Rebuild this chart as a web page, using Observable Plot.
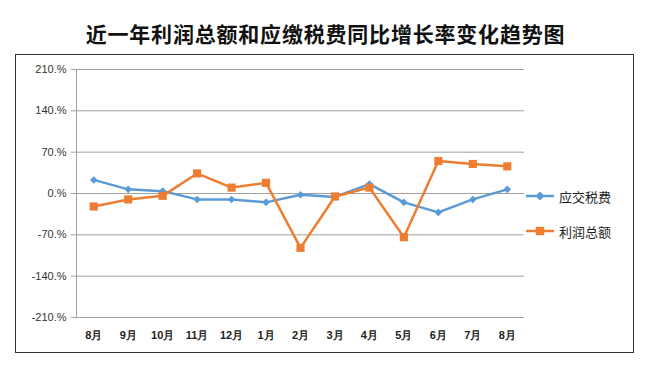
<!DOCTYPE html>
<html><head><meta charset="utf-8">
<script src="https://cdn.jsdelivr.net/npm/d3@7"></script>
<script src="https://cdn.jsdelivr.net/npm/@observablehq/plot@0.6"></script>
<style>
body{margin:0;background:#fff;}
#wrap{position:relative;width:650px;height:367px;overflow:hidden;font-family:"Noto Sans CJK SC",sans-serif;}
#title{position:absolute;left:0;top:18px;width:650px;padding-left:1px;box-sizing:border-box;text-align:center;font-size:21px;font-weight:700;letter-spacing:0.8px;line-height:30px;color:#111;}
#box{position:absolute;left:15px;top:54px;width:617px;height:297px;border:1px solid #333;}
#chart{position:absolute;left:0;top:0;}
.leg{position:absolute;left:510px;height:20px;display:flex;align-items:center;font-size:13px;color:#222;white-space:nowrap;}
.leg svg{margin-right:5px;}
</style></head>
<body>
<div id="wrap">
  <div id="title"></div>
  <div id="box">
    <div id="chart"></div>
  </div>
</div>
<script>
const titleText = "近一年利润总额和应缴税费同比增长率变化趋势图";
const months = ["8月","9月","10月","11月","12月","1月","2月","3月","4月","5月","6月","7月","8月"];
const tax = [23, 7, 4, -10, -10, -15, -2, -6, 16, -15, -32, -10, 7];
const profit = [-22, -10, -4, 34, 10, 18, -92, -5, 10, -74, 55, 50, 46];
const yTicks = [-210, -140, -70, 0, 70, 140, 210];
const seriesNames = ["应交税费", "利润总额"];
const colors = ["#5B9BD5", "#ED7D31"];
const symbols = ["diamond2", "square"];

document.getElementById("title").textContent = titleText;

const taxRows = tax.map((v, i) => ({i, v}));
const profitRows = profit.map((v, i) => ({i, v}));
const xIdx = d3.range(months.length);

const chart = Plot.plot({
  width: 510, height: 296,
  marginLeft: 60, marginRight: 2, marginTop: 14, marginBottom: 34,
  style: {fontFamily: "'Liberation Sans', sans-serif", background: "transparent"},
  x: {type: "linear", domain: [-0.5, months.length - 0.5], label: null},
  y: {domain: [yTicks[0], yTicks[yTicks.length - 1]], label: null},
  marks: [
    Plot.gridY(yTicks, {stroke: "#a0a0a0", strokeOpacity: 1, strokeWidth: 1}),
    Plot.axisY(yTicks, {tickSize: 5, tickPadding: 5, stroke: "#a0a0a0", fill: "#333", fontSize: 11, tickFormat: d => `${d}.%`, label: null}),
    Plot.ruleX([-0.5], {stroke: "#a0a0a0", strokeWidth: 1}),
    Plot.axisX(xIdx, {tickSize: 0, tickPadding: 14, fill: "#222", fontSize: 11, fontWeight: "bold", tickFormat: i => months[i], label: null}),
    Plot.line(taxRows, {x: "i", y: "v", stroke: colors[0], strokeWidth: 2.5}),
    Plot.dot(taxRows, {x: "i", y: "v", symbol: symbols[0], fill: colors[0], stroke: "none", r: 3.4}),
    Plot.line(profitRows, {x: "i", y: "v", stroke: colors[1], strokeWidth: 2.5}),
    Plot.dot(profitRows, {x: "i", y: "v", symbol: symbols[1], fill: colors[1], stroke: "none", r: 4.6})
  ]
});
document.getElementById("chart").appendChild(chart);

// legend
const box = document.getElementById("box");
const legTops = [131, 166];
seriesNames.forEach((name, k) => {
  const d = document.createElement("div");
  d.className = "leg";
  d.style.top = legTops[k] + "px";
  const mk = k === 0
    ? `<path d="M14 5.5 L18.5 10 L14 14.5 L9.5 10 Z" fill="${colors[k]}"/>`
    : `<rect x="9.8" y="5.8" width="8.4" height="8.4" fill="${colors[k]}"/>`;
  d.innerHTML = `<svg width="28" height="20"><line x1="0" y1="10" x2="28" y2="10" stroke="${colors[k]}" stroke-width="2.5"/>${mk}</svg><span>${name}</span>`;
  box.appendChild(d);
});
</script>
</body></html>
